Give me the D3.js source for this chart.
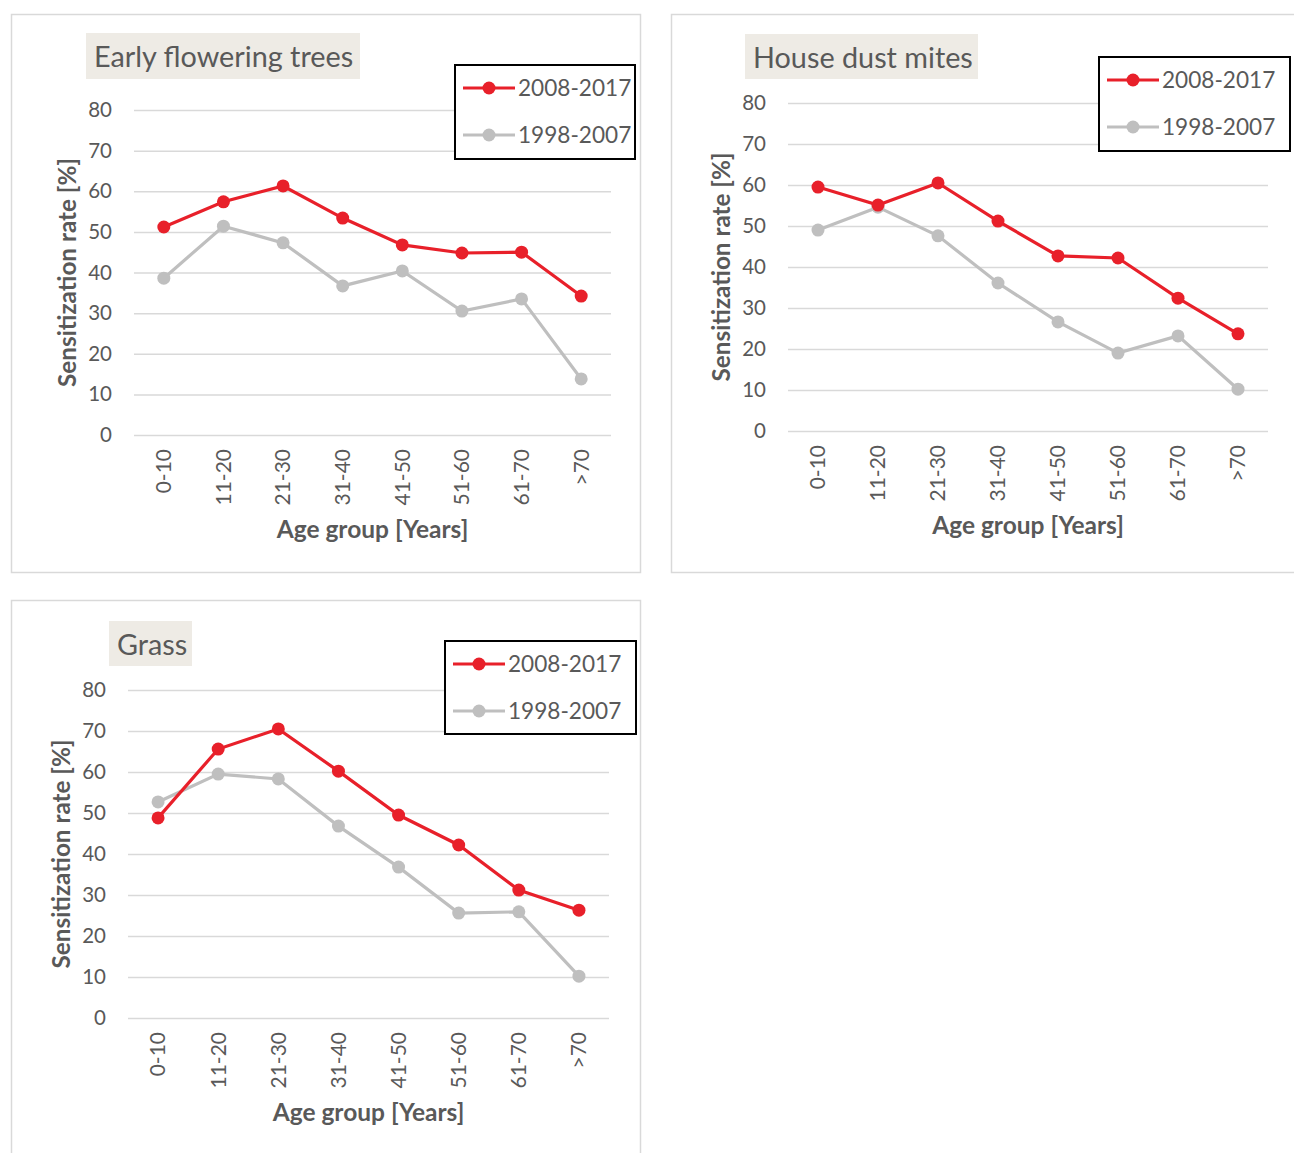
<!DOCTYPE html>
<html>
<head>
<meta charset="utf-8">
<script src="https://cdn.jsdelivr.net/npm/d3@7"></script>
<style>
  body { margin: 0; background: #fff; }
  text { font-family: Lato, "Open Sans", sans-serif; fill: #595959; }
</style>
</head>
<body>
<svg id="chart" width="1294" height="1153"></svg>
<script>
// categories and ticks
var ageGroups = ["0-10", "11-20", "21-30", "31-40", "41-50", "51-60", "61-70", ">70"];
var yTicks = [0, 10, 20, 30, 40, 50, 60, 70, 80];
var seriesNames = ["2008-2017", "1998-2007"];

// sensitization rates [%]
var treesRecent = [51.2, 57.4, 61.3, 53.4, 46.8, 44.8, 45.0, 34.2];
var treesOld    = [38.6, 51.4, 47.3, 36.7, 40.4, 30.5, 33.5, 13.8];
var mitesRecent = [59.5, 55.1, 60.5, 51.2, 42.7, 42.2, 32.4, 23.7];
var mitesOld    = [49.0, 54.6, 47.6, 36.1, 26.6, 19.0, 23.2, 10.2];
var grassRecent = [48.8, 65.6, 70.5, 60.2, 49.5, 42.2, 31.2, 26.3];
var grassOld    = [52.7, 59.5, 58.3, 46.8, 36.8, 25.6, 25.9, 10.2];

var colors = ["#e8202a", "#bfbfbf"];

var svg = d3.select("#chart");

// one panel per allergen
var panels = [
  { title: "Early flowering trees", series: [treesRecent, treesOld],
    frame: [11, 14, 629, 558], plot: [134, 611, 110, 435],
    titleBox: [86, 33, 274, 46], legend: [455, 65, 180, 94] },
  { title: "House dust mites", series: [mitesRecent, mitesOld],
    frame: [671, 14, 640, 558], plot: [788, 1268, 103, 431],
    titleBox: [745, 34, 233, 45], legend: [1099, 57, 191, 94] },
  { title: "Grass", series: [grassRecent, grassOld],
    frame: [11, 600, 629, 570], plot: [128, 609, 690, 1018],
    titleBox: [109, 621, 83, 45], legend: [445, 641, 191, 93] }
];

panels.forEach(function(p) {
  var g = svg.append("g");

  // outer frame
  g.append("rect")
    .attr("x", p.frame[0] + 0.5).attr("y", p.frame[1] + 0.5)
    .attr("width", p.frame[2]).attr("height", p.frame[3])
    .attr("fill", "none").attr("stroke", "#d9d9d9").attr("stroke-width", 1.5);

  var x = d3.scaleBand().domain(ageGroups).range([p.plot[0], p.plot[1]]);
  var y = d3.scaleLinear().domain([0, 80]).range([p.plot[3], p.plot[2]]);

  // gridlines + y labels
  var yAxis = g.append("g")
    .attr("transform", "translate(" + p.plot[0] + ",0)")
    .call(d3.axisLeft(y).tickValues(yTicks).tickSize(-(p.plot[1] - p.plot[0])).tickPadding(22));
  yAxis.select(".domain").remove();
  yAxis.selectAll("line").attr("stroke", "#d9d9d9").attr("stroke-width", 1.5);
  yAxis.selectAll("text").style("font-size", "20.5px").attr("fill", "#595959");

  // x labels, rotated
  var xAxis = g.append("g")
    .attr("transform", "translate(0," + p.plot[3] + ")")
    .call(d3.axisBottom(x).tickSize(0));
  xAxis.select(".domain").remove();
  xAxis.selectAll("text")
    .style("font-size", "21px").attr("fill", "#595959")
    .attr("transform", "rotate(-90)")
    .attr("text-anchor", "end")
    .attr("x", -14).attr("y", 0).attr("dy", "0.35em");

  // axis titles
  var cx = (p.plot[0] + p.plot[1]) / 2;
  g.append("text")
    .attr("x", cx).attr("y", p.plot[3] + 103)
    .attr("text-anchor", "middle")
    .style("font-size", "24.5px").style("font-weight", "bold")
    .text("Age group [Years]");
  var cy = (p.plot[2] + p.plot[3]) / 2;
  g.append("text")
    .attr("transform", "translate(" + (p.plot[0] - 58) + "," + cy + ") rotate(-90)")
    .attr("text-anchor", "middle")
    .style("font-size", "24.3px").style("font-weight", "bold")
    .text("Sensitization rate [%]");

  // series, older first so the red line sits on top
  var line = d3.line()
    .x(function(d, i) { return x(ageGroups[i]) + x.bandwidth() / 2; })
    .y(function(d) { return y(d); });

  [1, 0].forEach(function(s) {
    var vals = p.series[s];
    g.append("path").datum(vals)
      .attr("d", line)
      .attr("fill", "none").attr("stroke", colors[s]).attr("stroke-width", 3.2);
    g.selectAll(".pt" + s).data(vals).enter().append("circle")
      .attr("cx", function(d, i) { return x(ageGroups[i]) + x.bandwidth() / 2; })
      .attr("cy", function(d) { return y(d); })
      .attr("r", 6.5).attr("fill", colors[s]);
  });

  // title box
  g.append("rect")
    .attr("x", p.titleBox[0]).attr("y", p.titleBox[1])
    .attr("width", p.titleBox[2]).attr("height", p.titleBox[3])
    .attr("fill", "#eeebe5");
  g.append("text")
    .attr("x", p.titleBox[0] + 8).attr("y", p.titleBox[1] + 34)
    .style("font-size", "28.8px")
    .text(p.title);

  // legend
  var L = p.legend;
  g.append("rect")
    .attr("x", L[0]).attr("y", L[1]).attr("width", L[2]).attr("height", L[3])
    .attr("fill", "#fff").attr("stroke", "#000").attr("stroke-width", 2);
  seriesNames.forEach(function(name, s) {
    var ly = L[1] + 23 + s * 47;
    g.append("line")
      .attr("x1", L[0] + 8).attr("x2", L[0] + 60)
      .attr("y1", ly).attr("y2", ly)
      .attr("stroke", colors[s]).attr("stroke-width", 3.2);
    g.append("circle").attr("cx", L[0] + 34).attr("cy", ly).attr("r", 6.5).attr("fill", colors[s]);
    g.append("text")
      .attr("x", L[0] + 63).attr("y", ly).attr("dy", "0.36em")
      .style("font-size", "22.6px")
      .text(name);
  });
});
</script>
</body>
</html>
